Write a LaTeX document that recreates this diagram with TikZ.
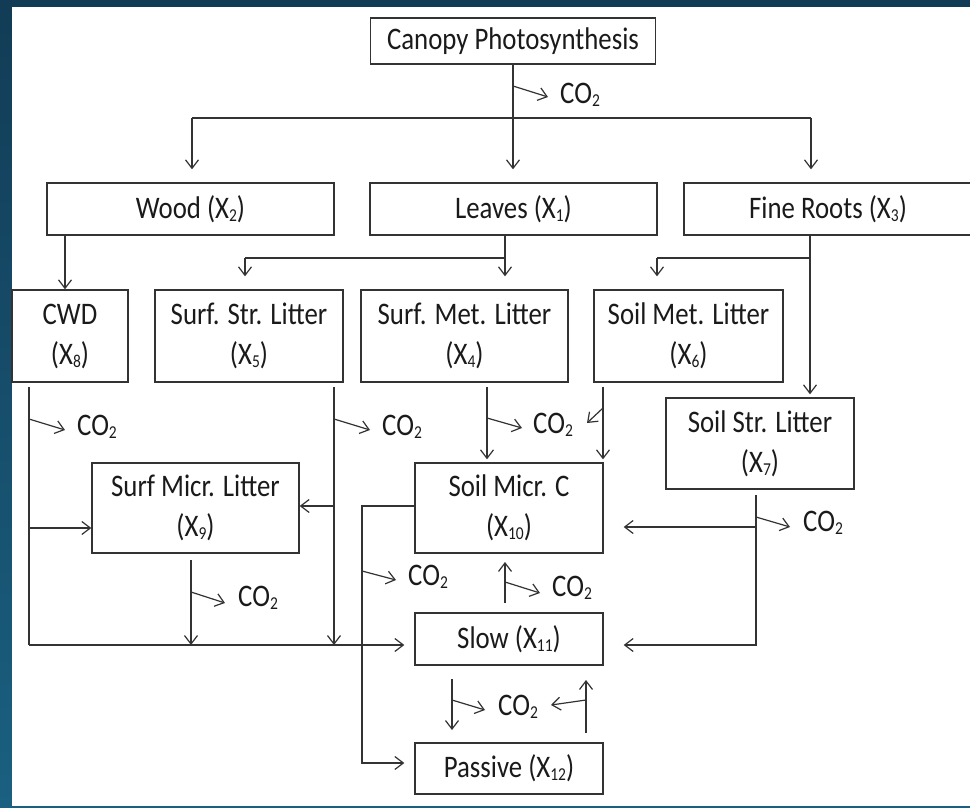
\documentclass[tikz,border=0pt]{standalone}
\usepackage{fontspec}
\setmainfont{Carlito}
\usepackage{graphicx}
\usetikzlibrary{arrows.meta}

\newcommand{\tall}[1]{\scalebox{1}[1.17]{#1}}
\newcommand{\lowidx}[1]{\raisebox{-2.6pt}{\fontsize{15.5}{16}\selectfont #1}}
\newcommand{\Xs}[1]{(X\lowidx{#1})}
\newcommand{\cotwo}{\tall{CO\lowidx{2}}}

\definecolor{lc}{HTML}{333333}
\definecolor{txt}{HTML}{1A1A1A}
\definecolor{bgtop}{RGB}{18,60,86}
\definecolor{bgbot}{RGB}{26,96,128}

\begin{document}
\begin{tikzpicture}[x=1pt,y=-1pt,
  box/.style={draw=lc, line width=1.4pt, fill=white, inner sep=0pt, align=center,
    text=txt, font=\fontsize{26.8}{40}\selectfont},
  link/.style={draw=lc, line width=1.2pt},
  flow/.style={link, -{Straight Barb[length=8.5pt,width=13pt]}},
  co/.style={inner sep=0pt, anchor=west, text=txt, font=\fontsize{26.8}{40}\selectfont}]

\useasboundingbox (0,0) rectangle (970,808);
% slide background and white panel
\shade[top color=bgtop, bottom color=bgbot] (0,0) rectangle (970,808);
\fill[white] (12,7) rectangle (970,806);

% pools
\node[box, minimum width=285pt, minimum height=46pt] (canopy) at (513,41) {\tall{Canopy Photosynthesis}};
\node[box, minimum width=287pt, minimum height=52pt] (wood) at (190.5,209) {\tall{Wood \Xs{2}}};
\node[box, minimum width=287pt, minimum height=52pt] (leaves) at (513.5,209) {\tall{Leaves \Xs{1}}};
\node[box, minimum width=288pt, minimum height=52pt] (roots) at (828,209) {\tall{Fine Roots \Xs{3}}};

\node[box, minimum width=116pt, minimum height=92pt] (cwd) at (70,336) {\tall{CWD}\\\tall{\Xs{8}}};
\node[box, minimum width=188pt, minimum height=92pt] (ssl) at (249,336) {\tall{Surf. Str. Litter}\\\tall{\Xs{5}}};
\node[box, minimum width=207pt, minimum height=92pt] (sml) at (464.5,336) {\tall{Surf. Met. Litter}\\\tall{\Xs{4}}};
\node[box, minimum width=189pt, minimum height=92pt] (soilml) at (688.5,336) {\tall{Soil Met. Litter}\\\tall{\Xs{6}}};
\node[box, minimum width=188pt, minimum height=91pt] (soilsl) at (760,443.5) {\tall{Soil Str. Litter}\\\tall{\Xs{7}}};

\node[box, minimum width=207pt, minimum height=90pt] (smicl) at (195.5,508) {\tall{Surf Micr. Litter}\\\tall{\Xs{9}}};
\node[box, minimum width=188pt, minimum height=90pt] (smc) at (509,508) {\tall{Soil Micr. C}\\\tall{\Xs{10}}};
\node[box, minimum width=188pt, minimum height=52pt] (slow) at (509,639) {\tall{Slow \Xs{11}}};
\node[box, minimum width=188pt, minimum height=51pt] (passive) at (509,768.5) {\tall{Passive \Xs{12}}};

% junction points
\coordinate (tl) at (192,118);
\coordinate (tr) at (811,118);
\coordinate (c0) at (513,86);
\coordinate (xw) at (65,0);
\coordinate (jl) at (505,258);
\coordinate (js) at (245,258);
\coordinate (jr) at (810,258);
\coordinate (jm) at (657,258);
\coordinate (a1) at (29,387);
\coordinate (a2) at (29,528);
\coordinate (a3) at (29,645);
\coordinate (a4) at (29,419);
\coordinate (b1) at (334,387);
\coordinate (b2) at (334,506);
\coordinate (b3) at (334,645);
\coordinate (b4) at (334,419);
\coordinate (m1) at (191,560);
\coordinate (m2) at (191,645);
\coordinate (m4) at (191,592);
\coordinate (e1) at (487,387);
\coordinate (e4) at (487,418);
\coordinate (f1) at (603,387);
\coordinate (f4) at (603,408);
\coordinate (d1) at (415,506);
\coordinate (d2) at (362,506);
\coordinate (d3) at (362,763);
\coordinate (d4) at (362,571);
\coordinate (k0) at (756,495);
\coordinate (k1) at (756,527);
\coordinate (k2) at (756,645);
\coordinate (k4) at (756,517);
\coordinate (u1) at (505,603);
\coordinate (u2) at (505,562);
\coordinate (u4) at (505,582);
\coordinate (v1) at (452,679);
\coordinate (v2) at (452,730);
\coordinate (v4) at (452,700);
\coordinate (p1) at (586,733);
\coordinate (p2) at (586,680);
\coordinate (p4) at (586,700);

% CO2 labels
\node[co] (co0) at (560,95) {\cotwo};
\node[co] (co1) at (77,427) {\cotwo};
\node[co] (co2) at (382,427) {\cotwo};
\node[co] (co3) at (533,425) {\cotwo};
\node[co] (co4) at (238,598) {\cotwo};
\node[co] (co5) at (408,577) {\cotwo};
\node[co] (co6) at (803,523) {\cotwo};
\node[co] (co7) at (552,588) {\cotwo};
\node[co] (co8) at (498,707) {\cotwo};

% canopy allocation
\draw[link] (tl) -- (tr);
\draw[flow, shorten >=13pt] (canopy.south) -- (canopy.south |- leaves.north);
\draw[flow, shorten >=13pt] (tl) -- (tl |- wood.north);
\draw[flow, shorten >=13pt] (tr) -- (tr |- roots.north);
\draw[flow] (c0) -- ++(35,11);

% litter inputs
\draw[flow] (wood.south -| xw) -- (cwd.north -| xw);
\draw[link] (leaves.south -| jl) -- (jl) -- (js);
\draw[flow, shorten >=13pt] (js) -- (js |- ssl.north);
\draw[flow, shorten >=13pt] (jl) -- (jl |- sml.north);
\draw[flow, shorten >=3pt] (roots.south -| jr) -- (jr |- soilsl.north);
\draw[link] (jr) -- (jm);
\draw[flow, shorten >=13pt] (jm) -- (jm |- soilml.north);

% CWD
\draw[link] (a1) -- (a3);
\draw[flow, shorten >=10pt] (a3) -- (a3 -| slow.west);
\draw[flow] (a2) -- (a2 -| smicl.west);
\draw[flow] (a4) -- ++(36,11);

% surface structural litter
\draw[flow] (b1) -- (b3);
\draw[flow] (b2) -- (b2 -| smicl.east);
\draw[flow] (b4) -- ++(36,11);

% surface microbes
\draw[flow] (m1) -- (m2);
\draw[flow] (m4) -- ++(34,11);

% surface and soil metabolic litter
\draw[flow, shorten >=3pt] (e1) -- (e1 |- smc.north);
\draw[flow] (e4) -- ++(35,10);
\draw[flow, shorten >=3pt] (f1) -- (f1 |- smc.north);
\draw[flow] (f4) -- ++(-16,15);

% soil microbes to passive
\draw[flow, shorten >=10pt] (d1) -- (d2) -- (d3) -- (d3 -| passive.west);
\draw[flow] (d4) -- ++(34,9);

% soil structural litter
\draw[flow, shorten >=20pt] (k0) -- (k2) -- (k2 -| slow.east);
\draw[flow, shorten >=20pt] (k1) -- (k1 -| smc.east);
\draw[flow] (k4) -- ++(34,10);

% slow and passive exchanges
\draw[flow] (u1) -- (u2);
\draw[flow] (u4) -- ++(35,11);
\draw[flow] (v1) -- (v2);
\draw[flow] (v4) -- ++(33,10);
\draw[flow] (p1) -- (p2);
\draw[flow] (p4) -- ++(-35,5);

\end{tikzpicture}
\end{document}
